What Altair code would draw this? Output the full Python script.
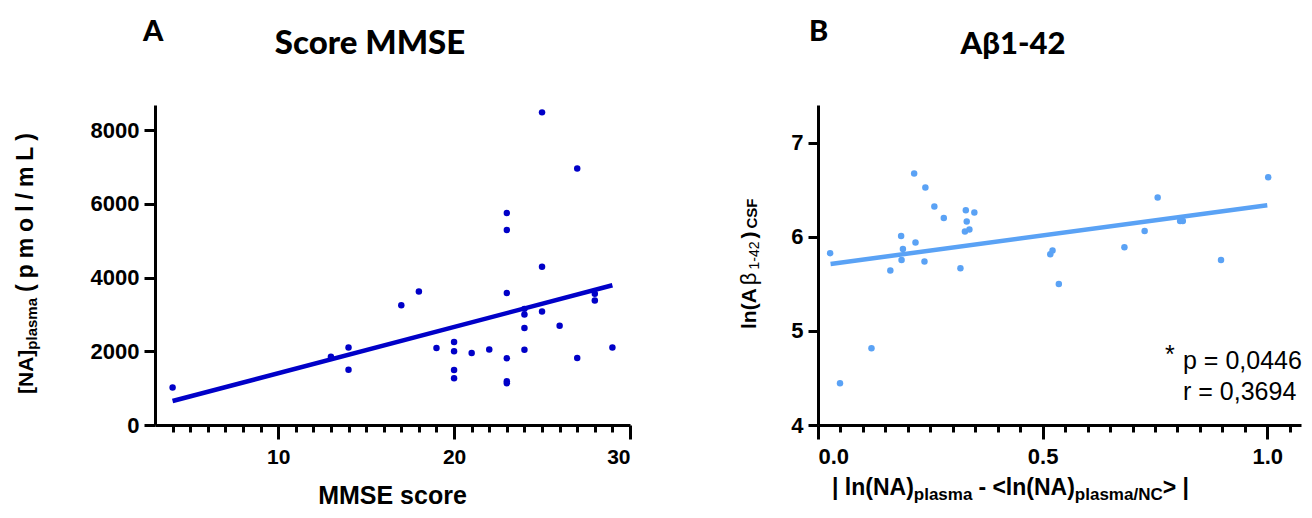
import altair as alt
import pandas as pd

FONT = "Liberation Sans"
TFONT = "Lato"
BLUE_A = "#0000C8"
BLUE_B = "#5AA2F5"

# ---------------- Panel A data ----------------
mmse = [4, 13, 14, 14, 17, 18, 19, 20, 20, 20, 20, 21, 22, 23, 23, 23, 23, 23, 23,
        24, 24, 24, 24, 25, 25, 25, 26, 27, 27, 28, 28, 29]
na_plasma = [1020, 1850, 2100, 1500, 3250, 3620, 2090, 2250, 2000, 1490, 1270, 1950,
             2045, 5750, 5290, 3580, 1810, 1190, 1130, 3150, 3000, 2630, 2040, 8480,
             4290, 3080, 2690, 6960, 1820, 3560, 3380, 2100]
fitA_x = [4, 29]
fitA_y = [650, 3790]
xA_major = [10, 20, 30]
xA_minor = [4, 5, 6, 7, 8, 9, 11, 12, 13, 14, 15, 16, 17, 18, 19,
            21, 22, 23, 24, 25, 26, 27, 28, 29]
yA_major = [0, 2000, 4000, 6000, 8000]
xA_domain = [3, 30]
yA_domain = [0, 8680]

# ---------------- Panel B data ----------------
dev_na = [0.027, 0.049, 0.119, 0.161, 0.185, 0.189, 0.186, 0.214, 0.217, 0.237,
          0.239, 0.259, 0.280, 0.317, 0.329, 0.331, 0.327, 0.337, 0.348, 0.517,
          0.522, 0.536, 0.682, 0.727, 0.756, 0.806, 0.812, 0.897, 1.002]
ln_abeta = [5.825, 4.443, 4.815, 5.641, 6.009, 5.870, 5.754, 6.671, 5.938, 5.736,
            6.523, 6.321, 6.200, 5.665, 6.282, 6.161, 6.055, 6.076, 6.257, 5.814,
            5.853, 5.499, 5.888, 6.062, 6.416, 6.168, 6.168, 5.754, 6.632]
fitB_x = [0.028, 1.0]
fitB_y = [5.711, 6.335]
xB_major = [0.0, 0.5, 1.0]
xB_minor = [0.05, 0.10, 0.15, 0.20, 0.25, 0.30, 0.35, 0.40, 0.45,
            0.55, 0.60, 0.65, 0.70, 0.75, 0.80, 0.85, 0.90, 0.95, 1.05]
yB_major = [4, 5, 6, 7]
xB_domain = [0, 1.075]
yB_domain = [4, 7.4]
stats_lines = ["p = 0,0446", "r = 0,3694"]

WA, WB, H = 475, 483, 320

# Arial / Liberation Sans advance widths (per 1000 em)
BOLD_W = {' ': 278, '(': 333, ')': 333, '-': 333, '/': 278, '<': 584, '>': 584, '|': 280,
          '[': 333, ']': 333, 'A': 722, 'C': 722, 'F': 611, 'L': 611, 'N': 722, 'S': 667,
          'a': 556, 'l': 278, 'm': 889, 'n': 611, 'o': 611, 'p': 611, 's': 556,
          '1': 556, '2': 556, '4': 556}
REG_W = {' ': 278, '-': 333, '1': 556, '2': 556, '4': 556, 'β': 575}


def tw(s, size, bold=True):
    table = BOLD_W if bold else REG_W
    return sum(table.get(c, 556) for c in s) * size / 1000.0


dummy = pd.DataFrame({"k": [0]})


def txt(s, x, y, size, weight="bold", font=FONT, align="left", angle=0, color="black"):
    kw = dict(font=font, fontSize=size, fontWeight=weight, align=align,
              baseline="alphabetic", color=color)
    if angle:
        kw["angle"] = angle
    return alt.Chart(dummy).mark_text(**kw).encode(
        x=alt.value(x), y=alt.value(y), text=alt.value(s))


def axis_major(values, fmt, size, pad, tick):
    return alt.Axis(values=values, format=fmt, tickSize=tick, tickWidth=3, tickColor="black",
                    domainWidth=3, domainColor="black", labelFont=FONT, labelFontSize=size,
                    labelFontWeight="bold", labelColor="black", labelPadding=pad,
                    title=None, grid=False, orient="bottom")


def axis_minor(values):
    return alt.Axis(values=values, tickSize=7, tickWidth=3, tickColor="black", labels=False,
                    domain=False, title=None, grid=False, orient="bottom")


def axis_y(values, fmt, size, pad, tick):
    return alt.Axis(values=values, format=fmt, tickSize=tick, tickWidth=3, tickColor="black",
                    domainWidth=3, domainColor="black", labelFont=FONT, labelFontSize=size,
                    labelFontWeight="bold", labelColor="black", labelPadding=pad,
                    title=None, grid=False, orient="left")


# ---------------- Panel A ----------------
dfA = pd.DataFrame({"mmse": mmse, "na": na_plasma})
fitA = pd.DataFrame({"x": fitA_x, "y": fitA_y})
sxA = alt.Scale(domain=xA_domain, nice=False, zero=False)
syA = alt.Scale(domain=yA_domain, nice=False, zero=False)
yaxA = axis_y(yA_major, "d", 22, 5, 11)

ptsA = alt.Chart(dfA).mark_circle(size=42, color=BLUE_A, opacity=1).encode(
    x=alt.X("mmse:Q", scale=sxA, axis=axis_major(xA_major, "d", 21, 7, 14)),
    y=alt.Y("na:Q", scale=syA, axis=yaxA))
lineA = alt.Chart(fitA).mark_line(color=BLUE_A, strokeWidth=4.5).encode(
    x=alt.X("x:Q", scale=sxA, axis=axis_minor(xA_minor)),
    y=alt.Y("y:Q", scale=syA, axis=yaxA))

textsA = [
    txt("A", -12, -64, 29, font=TFONT, weight=900),
    txt("Score MMSE", 215, -51, 33, font=TFONT, align="center", weight=900),
    txt("MMSE score", WA / 2, 399, 25, align="center"),
]
# rotated y title: [NA]plasma (pmol/mL)
bx, by = -122, 289
textsA.append(txt("[NA]", bx, by, 21, angle=270))
by -= tw("[NA]", 21)
textsA.append(txt("plasma", bx + 4, by, 15, angle=270))
by -= tw("plasma", 15) + 6
unit = "(pmol/mL)"
end_y = 28
gap = ((by - end_y) - tw(unit, 23)) / (len(unit) - 1)
for ch in unit:
    textsA.append(txt(ch, bx, by, 23, angle=270))
    by -= tw(ch, 23) + gap

panelA = alt.layer(ptsA, lineA, *textsA).resolve_axis(x="independent").properties(
    width=WA, height=H)

# ---------------- Panel B ----------------
dfB = pd.DataFrame({"dev": dev_na, "ab": ln_abeta})
fitB = pd.DataFrame({"x": fitB_x, "y": fitB_y})
sxB = alt.Scale(domain=xB_domain, nice=False, zero=False)
syB = alt.Scale(domain=yB_domain, nice=False, zero=False)
yaxB = axis_y(yB_major, "d", 22, 5, 10)

ptsB = alt.Chart(dfB).mark_circle(size=42, color=BLUE_B, opacity=1).encode(
    x=alt.X("dev:Q", scale=sxB, axis=axis_major(xB_major, ".1f", 22, 7, 14)),
    y=alt.Y("ab:Q", scale=syB, axis=yaxB))
lineB = alt.Chart(fitB).mark_line(color=BLUE_B, strokeWidth=4.5).encode(
    x=alt.X("x:Q", scale=sxB, axis=axis_minor(xB_minor)),
    y=alt.Y("y:Q", scale=syB, axis=yaxB))

textsB = [
    txt("B", -9, -64, 29, font=TFONT, weight=900),
    txt("Aβ1-42", 195, -51, 31, font=TFONT, align="center", weight=900),
    txt("*", 347, 258, 25, weight="normal"),
    txt(stats_lines[0], 365, 264, 25, weight="normal"),
    txt(stats_lines[1], 365, 295, 25, weight="normal"),
]
# rotated y title: ln(Aβ1-42)CSF
bx, by = -62, 224
for s, size, bold, shift in [("ln(A", 21, True, 0), ("β", 22, False, 0),
                             ("1-42", 14, False, 3), (")", 21, True, 0),
                             ("CSF", 15, True, 1)]:
    textsB.append(txt(s, bx + shift, by, size, weight="bold" if bold else "normal",
                      angle=270))
    by -= tw(s, size, bold) + 3

# x title: | ln(NA)plasma - <ln(NA)plasma/NC> |   (no leading spaces: SVG trims them)
tx, ty = 14, 390
for s, size, shift, lead in [("| ln(NA)", 23, 0, 0), ("plasma", 17, 5, 0),
                             ("- <ln(NA)", 23, 0, 6), ("plasma/NC", 17, 5, 0),
                             ("> |", 23, 0, 0)]:
    tx += lead
    textsB.append(txt(s, tx, ty + shift, size))
    tx += tw(s, size)

panelB = alt.layer(ptsB, lineB, *textsB).resolve_axis(x="independent").properties(
    width=WB, height=H)

chart = alt.hconcat(panelA, panelB, spacing=106).properties(
    padding={"left": 6, "top": 10, "right": 0, "bottom": 0},
    background="white",
).configure_view(stroke=None)

chart.save("out.html", embed_options={"renderer": "svg", "actions": False})
